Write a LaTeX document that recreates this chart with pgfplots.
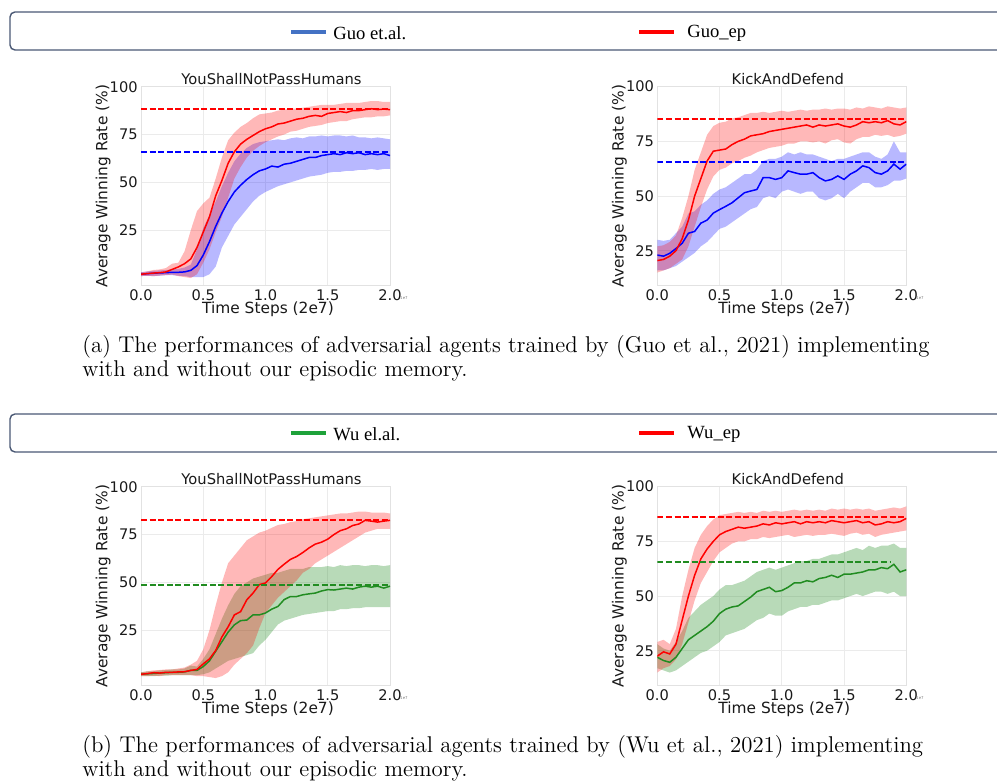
\documentclass[border=0pt]{standalone}
\usepackage{pgfplots}
\pgfplotsset{compat=1.18}
\usepackage{pgfplotstable}
\usepgfplotslibrary{fillbetween}
\usepackage{fontspec}
\newfontfamily\dejavu{DejaVu Sans}
\newfontfamily\tnr{Liberation Serif}

\definecolor{gridc}{HTML}{EBEBEB}
\definecolor{framec}{HTML}{E2E2E2}
\definecolor{legblue}{HTML}{4472C4}
\definecolor{leggreen}{HTML}{1EA23A}
\definecolor{mgreen}{rgb}{0.13,0.55,0.13}
\definecolor{boxc}{HTML}{4A5874}

% Guo, YouShallNotPassHumans
\pgfplotstableread{
x m lo hi
0.00 2.0 1.0 3.0
0.05 2.3 1.2 3.5
0.10 2.6 1.0 4.2
0.15 2.8 1.3 4.5
0.20 3.2 1.5 5.2
0.25 4.5 1.8 7.5
0.30 5.8 1.0 8.0
0.35 7.5 0.5 14
0.40 10.0 0.0 25
0.45 16.0 2.0 35
0.50 24.0 8.0 39
0.55 32.0 15 42
0.60 43.0 24 52
0.65 51.0 32 63
0.70 60.0 42 72
0.75 66.0 52 76
0.80 70.0 58 79
0.85 72.5 63 81
0.90 74.5 66.5 83.5
0.95 76.5 69 85.5
1.00 78.0 71 86
1.05 79.0 72.5 86.5
1.10 80.5 74 87.5
1.15 81.0 75 88
1.20 82.0 76.5 88.5
1.25 83.0 77 88.5
1.30 83.5 78 89
1.35 84.5 79 89.5
1.40 85.0 79.5 90
1.45 84.5 80 90.5
1.50 86.0 81 90.5
1.55 86.5 81.5 90.5
1.60 87.0 82 91
1.65 86.5 82 91.5
1.70 87.5 83 91.5
1.75 87.5 83.5 91.5
1.80 88.0 84 92
1.85 88.5 84 92.5
1.90 88.0 84.5 92.5
1.95 88.3 84.5 92
2.00 88.0 85 92
}\gar
\pgfplotstableread{
x m lo hi
0.00 2.0 1.0 3.0
0.05 2.3 1.2 3.4
0.10 2.5 1.0 3.8
0.15 2.7 1.2 4.0
0.20 2.8 1.5 4.2
0.25 3.0 1.5 4.5
0.30 3.0 1.2 4.8
0.35 3.2 1.0 5.5
0.40 4.0 0.5 7.0
0.45 6.5 0.5 15
0.50 12.0 0.5 26
0.55 19.0 2.0 33
0.60 27.0 6.0 40
0.65 34.0 16 48
0.70 40.0 22 55
0.75 45.0 28 61
0.80 48.5 32 65
0.85 51.5 36 68
0.90 54.0 40 70
0.95 56.0 43 71
1.00 57.0 45 71.5
1.05 58.5 46.5 72
1.10 58.0 48 72.5
1.15 59.5 49 72
1.20 60.0 50 73
1.25 61.0 51 73.5
1.30 62.0 52 73
1.35 63.0 53 74
1.40 63.0 53.5 74
1.45 64.0 54 74.5
1.50 64.5 55 74
1.55 65.0 55.5 74.5
1.60 64.5 55.5 74.5
1.65 65.5 56 74
1.70 65.0 56 74.5
1.75 65.5 56.5 73.5
1.80 64.5 56.5 73.5
1.85 65.0 57 73
1.90 64.5 56.5 73.5
1.95 65.0 57 73
2.00 64.0 57 72.5
}\gab
% Guo, KickAndDefend
\pgfplotstableread{
x m lo hi
0.00 20.5 15 27
0.05 21.0 16 27.5
0.10 22.5 17 29
0.15 25.0 19 32
0.20 30.5 21 40
0.25 39.0 27 50
0.30 50.0 36 62
0.35 58.0 45 70
0.40 66.0 53 78
0.45 70.5 59 82
0.50 71.0 62 83.5
0.55 71.5 63 84
0.60 73.5 65 85.5
0.65 75.0 66 86
0.70 76.0 67.5 87
0.75 77.5 68.5 88
0.80 78.0 70 88
0.85 78.5 71 88.5
0.90 79.5 72 88
0.95 80.0 72.5 88.5
1.00 80.5 73 89
1.05 81.0 74 88.5
1.10 81.5 74 89
1.15 82.0 75 89.5
1.20 82.5 75 89
1.25 81.5 74.5 89.5
1.30 82.5 75 89.5
1.35 82.0 74 90
1.40 82.5 75.5 89.5
1.45 83.0 76 90
1.50 82.0 74.5 90
1.55 81.5 74 89.5
1.60 82.5 76 90.5
1.65 84.0 77 90
1.70 83.5 77 91
1.75 84.0 78 90.5
1.80 83.5 77.5 90
1.85 84.5 78 91
1.90 83.0 77 90.5
1.95 82.5 77.5 90
2.00 84.0 78.5 90.5
}\gbr
\pgfplotstableread{
x m lo hi
0.00 23.0 16 30
0.05 22.5 16 29.5
0.10 23.8 17 30
0.15 26.0 18 33
0.20 28.4 20 36
0.25 33.0 22 42
0.30 33.8 24 43
0.35 37.6 27 46
0.40 39.0 29 48
0.45 42.2 32 51
0.50 43.8 35 53
0.55 45.3 36 54
0.60 46.9 38 56
0.65 49.2 40 58
0.70 51.5 42 60
0.75 52.3 44 60
0.80 53.0 45 62
0.85 58.4 49 66
0.90 58.4 50 67
0.95 57.6 49 67
1.00 58.4 52 68
1.05 61.5 53 70
1.10 60.7 52 69
1.15 60.0 51 70
1.20 60.0 52 69
1.25 60.7 52 69
1.30 58.4 49 68
1.35 56.9 48 67
1.40 57.6 49 66
1.45 59.2 51 67
1.50 57.6 49 67
1.55 60.0 52 68
1.60 61.5 54 69
1.65 63.8 56 70
1.70 63.0 56 70
1.75 60.7 54 68
1.80 60.0 54 67
1.85 61.5 55 69
1.90 64.6 57 75
1.95 62.3 57 70
2.00 64.6 58 70
}\gbb
% Wu, YouShallNotPassHumans
\pgfplotstableread{
x m lo hi
0.00 2.0 1.0 3.0
0.05 2.3 1.0 3.5
0.10 2.8 1.2 4.0
0.15 2.6 1.0 4.2
0.20 3.0 1.5 4.5
0.25 3.0 1.5 4.5
0.30 3.2 1.5 5.0
0.35 3.3 1.5 5.5
0.40 4.0 1.5 7.0
0.45 4.5 1.0 9.0
0.50 7.4 1.0 15
0.55 10.0 0.5 25
0.60 14.4 0.0 38
0.65 21.5 1.0 50
0.70 26.8 3.0 60
0.75 33.0 7.0 64
0.80 34.7 10 68
0.85 40.9 13 72
0.90 44.4 17 74
0.95 48.8 26 76
1.00 49.7 34 77
1.05 53.0 38 78.5
1.10 56.8 42 80
1.15 59.5 45 80.5
1.20 62.0 48 81.5
1.25 63.5 51 82
1.30 65.6 55 83
1.35 68.0 57 83.5
1.40 70.0 60 84
1.45 71.0 62 84.5
1.50 72.6 64 85
1.55 75.0 66 85.5
1.60 77.0 68 86
1.65 78.0 70 86
1.70 79.7 72 86.5
1.75 80.5 74 87
1.80 82.4 76 87
1.85 82.0 77 86.5
1.90 81.5 78 86.5
1.95 82.0 78 86.5
2.00 82.4 78 86
}\war
\pgfplotstableread{
x m lo hi
0.00 2.0 1.0 3.0
0.05 2.2 1.0 3.5
0.10 2.4 1.0 3.5
0.15 2.6 1.2 4.0
0.20 2.8 1.2 4.2
0.25 3.0 1.5 4.5
0.30 3.0 1.5 4.5
0.35 3.2 1.5 5.0
0.40 4.0 1.5 6.5
0.45 4.0 1.5 6.0
0.50 6.0 2.0 10
0.55 9.0 3.0 15
0.60 14.0 5.0 23
0.65 19.0 7.0 31
0.70 24.0 9.0 38
0.75 27.8 10 44
0.80 30.0 11 48
0.85 30.3 12 50
0.90 33.0 13 52
0.95 33.0 17 53
1.00 34.0 20 54
1.05 36.0 24 55
1.10 37.4 28 55
1.15 41.0 30 56
1.20 42.6 31 57
1.25 42.6 32 57
1.30 43.5 33 57
1.35 44.0 33.5 58
1.40 44.4 34 58
1.45 45.5 34.5 58
1.50 46.2 35 58.5
1.55 46.0 35 58
1.60 46.5 36 59
1.65 47.0 36 58.5
1.70 46.5 36.5 59
1.75 47.5 36.5 59
1.80 48.0 37 58.5
1.85 47.5 37 59
1.90 48.0 37 59
1.95 47.0 37 58.5
2.00 48.0 37 59
}\wag
% Wu, KickAndDefend
\pgfplotstableread{
x m lo hi
0.00 22.5 15 29
0.05 24.5 17 30
0.10 23.5 18 28
0.15 28.0 21 35
0.20 39.0 28 50
0.25 50.0 38 62
0.30 59.5 48 72
0.35 67.0 56 78
0.40 71.5 61 82
0.45 75.0 66 85
0.50 78.0 70 87
0.55 79.5 72 87.5
0.60 80.5 74 88
0.65 81.5 75 88.5
0.70 81.0 75 88
0.75 81.5 76 88.5
0.80 82.0 76 88
0.85 83.0 77 89
0.90 82.5 76.5 88.5
0.95 83.5 77 89
1.00 83.0 77.5 88.5
1.05 83.5 78 89
1.10 84.0 77 89.5
1.15 83.0 77.5 89
1.20 84.0 78 89.5
1.25 83.5 77.5 89
1.30 84.0 78 89.5
1.35 83.5 78 89
1.40 84.5 78.5 90
1.45 84.0 78 89.5
1.50 83.5 77.5 90
1.55 84.0 78.5 89.5
1.60 84.5 79 90
1.65 83.5 78 89.5
1.70 84.0 78.5 90
1.75 82.5 77 89
1.80 83.0 78 89.5
1.85 84.0 78.5 90
1.90 83.5 79 90.5
1.95 84.0 79.5 90
2.00 85.5 80 91
}\wbr
\pgfplotstableread{
x m lo hi
0.00 22.0 17 28
0.05 20.5 16 26
0.10 19.7 15 25
0.15 22.0 16 29
0.20 26.0 18 34
0.25 30.0 20 40
0.30 32.0 22 43
0.35 34.0 24 46
0.40 36.0 25 48
0.45 38.5 27 50
0.50 42.0 29 53
0.55 44.0 32 55
0.60 45.0 33 55
0.65 45.5 34 56
0.70 47.5 35 57
0.75 49.5 37 59
0.80 52.0 39 61
0.85 53.0 40 62
0.90 54.0 42 63
0.95 52.0 41 62
1.00 52.5 41 63
1.05 54.0 43 64
1.10 56.0 44 65
1.15 56.0 45 66
1.20 57.0 45 66
1.25 56.5 46 67
1.30 58.0 46 67
1.35 58.5 47 68
1.40 59.5 48 69
1.45 58.5 48 69
1.50 60.0 49 70
1.55 60.0 50 71
1.60 60.5 51 72
1.65 61.0 50 71
1.70 62.0 51 73
1.75 62.0 52 72
1.80 63.0 52 73
1.85 62.5 51 73
1.90 64.5 52 74
1.95 61.0 50 72
2.00 62.0 50 72
}\wbg

\pgfplotsset{
  sub/.style={
    scale only axis, width=124.5pt, height=99.5pt,
    xmin=0, xmax=2,
    xtick={0,0.5,1,1.5,2}, ytick={25,50,75,100},
    grid=major, major grid style={gridc, line width=0.5pt},
    axis line style={framec, line width=0.5pt},
    major tick length=0pt,
    /pgf/number format/assume math mode=true,
    tick label style={font=\dejavu\fontsize{7.3}{8.5}\selectfont, text=black!90},
    x tick label style={/pgf/number format/fixed, /pgf/number format/fixed zerofill, /pgf/number format/precision=1},
    yticklabel style={anchor=east, inner sep=0pt, xshift=-1.5pt},
    xticklabel style={anchor=north, inner sep=0pt, yshift=-2.0pt},
    label style={font=\dejavu\fontsize{7.7}{9}\selectfont, text=black!90},
    xlabel={Time Steps (2e7)},
    ylabel={Average Winning Rate (\%)},
    xlabel style={at={(axis description cs:0.51,-0.1256)}, anchor=base, inner sep=0pt, yshift=-1.6pt},
    ylabel style={at={(axis description cs:-0.135,0.5)}, anchor=base, inner sep=0pt},
    every axis title shift=0pt,
    title style={font=\dejavu\fontsize{7.35}{9}\selectfont, text=black!90, at={(axis description cs:0.524,1)}, anchor=base, yshift=0.85pt, inner sep=0pt},
    mline/.style={line width=0.75pt},
    dline/.style={line width=0.9pt, dash pattern=on 3pt off 1.3pt},
  }
}

\begin{document}
\begin{tikzpicture}

% legend (a)
\draw[boxc, line width=0.7pt, rounded corners=2.5pt] (5pt,384.5pt) rectangle (510pt,365.5pt);
\draw[legblue, line width=2pt] (145.5pt,374.5pt) -- (163pt,374.5pt);
\node[anchor=west, inner sep=0pt, font=\tnr\fontsize{9.3}{11}\selectfont] at (166.5pt,374pt) {Guo et.al.};
\draw[red, line width=2pt] (319.5pt,374.5pt) -- (337pt,374.5pt);
\node[anchor=west, inner sep=0pt, font=\tnr\fontsize{9.3}{11}\selectfont] at (343.5pt,374pt) {Guo\_ep};

% legend (b)
\draw[boxc, line width=0.7pt, rounded corners=2.5pt] (5pt,183.5pt) rectangle (510pt,164.5pt);
\draw[leggreen, line width=2pt] (145.5pt,174pt) -- (163pt,174pt);
\node[anchor=west, inner sep=0pt, font=\tnr\fontsize{9.3}{11}\selectfont] at (166.5pt,173.5pt) {Wu el.al.};
\draw[red, line width=2pt] (319.5pt,174pt) -- (337pt,174pt);
\node[anchor=west, inner sep=0pt, font=\tnr\fontsize{9.3}{11}\selectfont] at (343.5pt,173.5pt) {Wu\_ep};

% (a) left
\begin{axis}[sub, at={(70.5pt,247.65pt)}, anchor=south west, ymin=-4, ymax=100, title={YouShallNotPassHumans}]
\addplot[draw=none, name path=al1] table[x=x,y=lo]{\gab};
\addplot[draw=none, name path=ah1] table[x=x,y=hi]{\gab};
\addplot[fill=blue, fill opacity=0.28, draw=none] fill between[of=al1 and ah1];
\addplot[draw=none, name path=al2] table[x=x,y=lo]{\gar};
\addplot[draw=none, name path=ah2] table[x=x,y=hi]{\gar};
\addplot[fill=red, fill opacity=0.28, draw=none] fill between[of=al2 and ah2];
\addplot[blue, mline] table[x=x,y=m]{\gab};
\addplot[red, mline] table[x=x,y=m]{\gar};
\addplot[red, dline] coordinates {(0,88.5) (2,88.5)};
\addplot[blue, dline] coordinates {(0,66) (2,66)};
\end{axis}

% (a) right
\begin{axis}[sub, at={(328.65pt,247.65pt)}, anchor=south west, ymin=9, ymax=100, title={KickAndDefend}]
\addplot[draw=none, name path=bl1] table[x=x,y=lo]{\gbb};
\addplot[draw=none, name path=bh1] table[x=x,y=hi]{\gbb};
\addplot[fill=blue, fill opacity=0.28, draw=none] fill between[of=bl1 and bh1];
\addplot[draw=none, name path=bl2] table[x=x,y=lo]{\gbr};
\addplot[draw=none, name path=bh2] table[x=x,y=hi]{\gbr};
\addplot[fill=red, fill opacity=0.28, draw=none] fill between[of=bl2 and bh2];
\addplot[blue, mline] table[x=x,y=m]{\gbb};
\addplot[red, mline] table[x=x,y=m]{\gbr};
\addplot[red, dline] coordinates {(0,85.2) (2,85.2)};
\addplot[blue, dline] coordinates {(0,65.5) (2,65.5)};
\end{axis}

% (b) left
\begin{axis}[sub, at={(70.5pt,47.65pt)}, anchor=south west, ymin=-4, ymax=100, title={YouShallNotPassHumans}]
\addplot[draw=none, name path=cl1] table[x=x,y=lo]{\wag};
\addplot[draw=none, name path=ch1] table[x=x,y=hi]{\wag};
\addplot[fill=mgreen, fill opacity=0.32, draw=none] fill between[of=cl1 and ch1];
\addplot[draw=none, name path=cl2] table[x=x,y=lo]{\war};
\addplot[draw=none, name path=ch2] table[x=x,y=hi]{\war};
\addplot[fill=red, fill opacity=0.28, draw=none] fill between[of=cl2 and ch2];
\addplot[mgreen, mline] table[x=x,y=m]{\wag};
\addplot[red, mline] table[x=x,y=m]{\war};
\addplot[red, dline] coordinates {(0,82.7) (2,82.7)};
\addplot[mgreen, dline] coordinates {(0,48.8) (2,48.8)};
\end{axis}

% (b) right
\begin{axis}[sub, at={(328.65pt,47.65pt)}, anchor=south west, ymin=9, ymax=100, title={KickAndDefend}]
\addplot[draw=none, name path=dl1] table[x=x,y=lo]{\wbg};
\addplot[draw=none, name path=dh1] table[x=x,y=hi]{\wbg};
\addplot[fill=mgreen, fill opacity=0.32, draw=none] fill between[of=dl1 and dh1];
\addplot[draw=none, name path=dl2] table[x=x,y=lo]{\wbr};
\addplot[draw=none, name path=dh2] table[x=x,y=hi]{\wbr};
\addplot[fill=red, fill opacity=0.28, draw=none] fill between[of=dl2 and dh2];
\addplot[mgreen, mline] table[x=x,y=m]{\wbg};
\addplot[red, mline] table[x=x,y=m]{\wbr};
\addplot[red, dline] coordinates {(0,86) (2,86)};
\addplot[mgreen, dline] coordinates {(0,65.5) (1.88,65.5)};
\end{axis}

% tiny offset marks
\foreach \px/\py in {202/241.5, 460/241.5, 202/41.5, 460/41.5}
  \node[inner sep=0pt, font=\dejavu\fontsize{2}{2}\selectfont, text=black!50] at (\px pt,\py pt) {1e7};

% captions
\begin{scope}[every node/.style={anchor=base west, inner sep=0pt, font=\fontsize{11.4}{13}\selectfont}]
\node at (41pt,214.25pt) {(a) The performances of adversarial agents trained by (Guo et al., 2021) implementing};
\node at (41pt,202.25pt) {with and without our episodic memory.};
\node at (41pt,14.25pt) {(b) The performances of adversarial agents trained by (Wu et al., 2021) implementing};
\node at (41pt,2.25pt) {with and without our episodic memory.};
\end{scope}

\pgfresetboundingbox
\path (0pt,0pt) rectangle (498.5pt,390.5pt);
\end{tikzpicture}
\end{document}
